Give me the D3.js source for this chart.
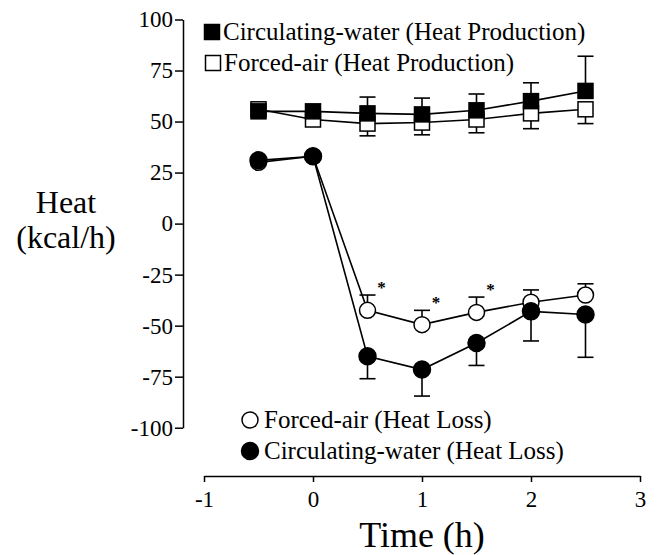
<!DOCTYPE html>
<html>
<head>
<meta charset="utf-8">
<script src="https://cdn.jsdelivr.net/npm/d3@7"></script>
<style>
	body { margin: 0; background: #fff; }
	svg { display: block; font-family: "Liberation Serif", "Times New Roman", serif; }
	.axis path, .axis line { stroke: #000; stroke-width: 1.5; }
	.axis text { font-size: 23px; fill: #000; font-family: "Liberation Serif", serif; }
</style>
</head>
<body>
<div id="chart-area"></div>
<script>
// Time points (h)
let times = [-0.5, 0, 0.5, 1, 1.5, 2, 2.5];

// Heat production (kcal/h), mean and SD
let cwProd    = [55, 55, 54, 53.5, 55.5, 60, 65];
let cwProdErr = [0, 0, 8, 8, 8, 9, 17];
let faProd    = [56, 51, 49, 49.5, 51, 54, 56];
let faProdErr = [0, 2, 6, 6, 6.5, 7.5, 7];

// Heat loss (kcal/h), mean and SD
let faLoss    = [30, 33, -42.5, -49.5, -43.5, -38.5, -35];
let faLossErr = [0, 0, 7.5, 7, 7.5, 6, 5.5];
let cwLoss    = [31, 33, -65, -71.5, -58.5, -43, -44.5];
let cwLossErr = [0, 0, 11, 13, 11, 14.5, 21];

// significant differences in heat loss
let sigTimes = [0.5, 1, 1.5];

let xTicks = [-1, 0, 1, 2, 3];
let yTicks = [100, 75, 50, 25, 0, -25, -50, -75, -100];

let width = 658,
	height = 555;

let svg = d3.select("#chart-area").append("svg")
	.attr("width", width)
	.attr("height", height);

let x = d3.scaleLinear()
	.domain([-1, 3])
	.range([204, 640]);

let y = d3.scaleLinear()
	.domain([-100, 100])
	.range([427.7, 19.5]);

let fmt = d => String(d); // plain hyphen for negatives

// axes (detached, like the original)
svg.append("g")
	.attr("class", "axis y-axis")
	.attr("transform", "translate(183,0)")
	.call(d3.axisLeft(y).tickValues(yTicks).tickFormat(fmt).tickSize(8).tickSizeOuter(0).tickPadding(2));

svg.append("g")
	.attr("class", "axis x-axis")
	.attr("transform", "translate(0,476)")
	.call(d3.axisBottom(x).tickValues(xTicks).tickFormat(fmt).tickSize(6).tickSizeOuter(0).tickPadding(7));

svg.selectAll(".x-axis .tick text").attr("dy", "0.78em");

// axis titles
svg.append("text")
	.attr("x", 66).attr("y", 213)
	.attr("text-anchor", "middle")
	.style("font-size", "32px")
	.text("Heat");
svg.append("text")
	.attr("x", 66).attr("y", 248)
	.attr("text-anchor", "middle")
	.style("font-size", "32px")
	.text("(kcal/h)");
svg.append("text")
	.attr("x", x(1)).attr("y", 547)
	.attr("text-anchor", "middle")
	.style("font-size", "36px")
	.text("Time (h)");

let series = [
	{vals: faProd, err: faProdErr, dir: -1, shape: "square", fill: "#fff"},
	{vals: cwProd, err: cwProdErr, dir: 1, shape: "square", fill: "#000"},
	{vals: faLoss, err: faLossErr, dir: 1, shape: "circle", fill: "#fff"},
	{vals: cwLoss, err: cwLossErr, dir: -1, shape: "circle", fill: "#000"}
];

let line = d3.line()
	.x(d => x(d.t))
	.y(d => y(d.v));

series.forEach(s => {
	s.pts = times.map((t, i) => ({t: t, v: s.vals[i], e: s.err[i]}));
});

// connecting lines
series.forEach(s => {
	svg.append("path")
		.datum(s.pts)
		.attr("d", line)
		.attr("fill", "none")
		.attr("stroke", "#000")
		.attr("stroke-width", 1.6);
});

// error bars (one-sided)
series.forEach(s => {
	let bars = svg.append("g").selectAll("g")
		.data(s.pts.filter(d => d.e > 0))
		.enter().append("g");
	bars.append("line")
		.attr("x1", d => x(d.t)).attr("x2", d => x(d.t))
		.attr("y1", d => y(d.v))
		.attr("y2", d => y(d.v + s.dir * d.e))
		.attr("stroke", "#000").attr("stroke-width", 1.6);
	bars.append("line")
		.attr("x1", d => x(d.t) - 8).attr("x2", d => x(d.t) + 8)
		.attr("y1", d => y(d.v + s.dir * d.e))
		.attr("y2", d => y(d.v + s.dir * d.e))
		.attr("stroke", "#000").attr("stroke-width", 1.6);
});

// markers
function drawMarker(g, shape, fill, cx, cy) {
	if (shape === "square") {
		g.append("rect")
			.attr("x", cx - 7.5).attr("y", cy - 7.5)
			.attr("width", 15).attr("height", 15)
			.attr("fill", fill)
			.attr("stroke", "#000").attr("stroke-width", 1.5);
	} else {
		g.append("circle")
			.attr("cx", cx).attr("cy", cy)
			.attr("r", fill === "#000" ? 8.5 : 8)
			.attr("fill", fill)
			.attr("stroke", "#000").attr("stroke-width", 1.5);
	}
}

series.forEach(s => {
	let g = svg.append("g");
	s.pts.forEach(d => drawMarker(g, s.shape, s.fill, x(d.t), y(d.v)));
});

// asterisks
svg.selectAll(".star")
	.data(sigTimes)
	.enter().append("text")
	.attr("class", "star")
	.attr("x", t => x(t) + 14)
	.attr("y", t => {
		let i = times.indexOf(t);
		return y(faLoss[i] + faLossErr[i]) - 2;
	})
	.attr("text-anchor", "middle")
	.style("font-size", "17px")
	.style("font-weight", "bold")
	.text("*");

// legends
let legendItems = [
	{label: "Circulating-water (Heat Production)", shape: "square", fill: "#000", x: 212, y: 32},
	{label: "Forced-air (Heat Production)", shape: "square", fill: "#fff", x: 213, y: 63},
	{label: "Forced-air (Heat Loss)", shape: "circle", fill: "#fff", x: 250, y: 420},
	{label: "Circulating-water (Heat Loss)", shape: "circle", fill: "#000", x: 250, y: 451}
];

legendItems.forEach(l => {
	let g = svg.append("g");
	drawMarker(g, l.shape, l.fill, l.x, l.y);
	g.append("text")
		.attr("x", l.x + (l.shape === "circle" ? 14 : 11))
		.attr("y", l.y + 8)
		.style("font-size", "25px")
		.text(l.label);
});
</script>
</body>
</html>
